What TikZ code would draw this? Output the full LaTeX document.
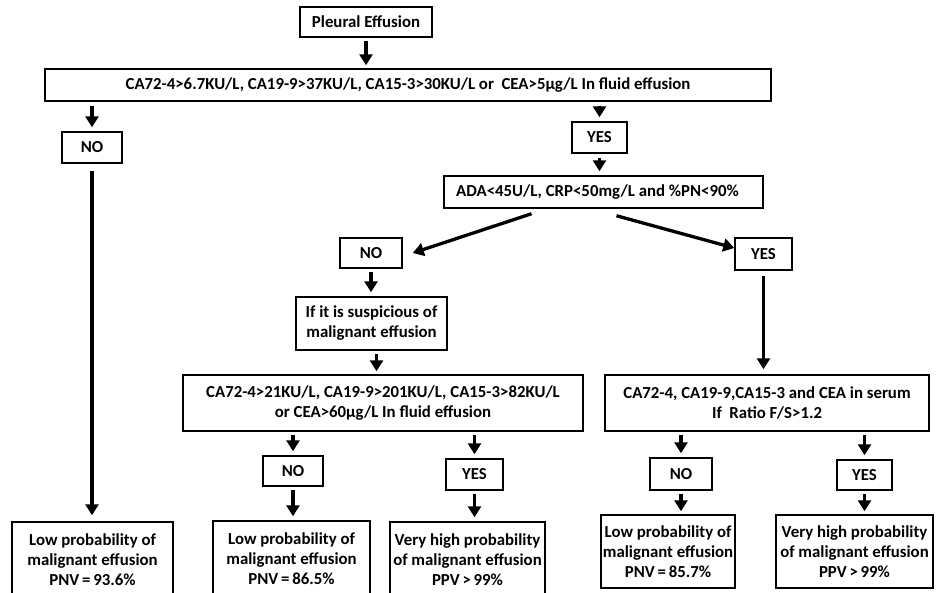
\documentclass[tikz,border=0pt]{standalone}
\usepackage{fontspec}
\setmainfont{Carlito}
\usetikzlibrary{arrows.meta,calc}
\tikzset{
  box/.style={draw=black, line width=1.5pt, fill=white, inner sep=0pt, align=center,
    font=\bfseries\fontsize{16.8}{20}\selectfont},
  arr/.style={line width=3.3pt, -{Triangle[width=13pt,length=11pt]}},
}
\begin{document}
\begin{tikzpicture}[x=1pt,y=-1pt]
\useasboundingbox (0,0) rectangle (936,592);
\clip (0,0) rectangle (936,592);
\fill[white] (0,0) rectangle (936,592);
% nodes
\node[box, minimum width=132pt, minimum height=30pt] (pe) at (366,22) {Pleural Effusion};
\node[box, minimum width=726pt, minimum height=32pt] (c1) at (408,85) {CA72-4>6.7KU/L, CA19-9>37KU/L, CA15-3>30KU/L or\ \ CEA>5µg/L In fluid effusion};
\node[box, minimum width=60pt, minimum height=31pt] (no1) at (92,147.5) {NO};
\node[box, minimum width=55pt, minimum height=31pt] (yes1) at (599.5,137.5) {YES};
\node[box, minimum width=319pt, minimum height=32pt] (ada) at (603.5,192) {ADA<45U/L, CRP<50mg/L and \%PN<90\%\hspace*{12pt}};
\node[box, minimum width=62pt, minimum height=30pt] (no2) at (371,253) {NO};
\node[box, minimum width=57pt, minimum height=32pt] (yes2) at (763.5,254) {YES};
\node[box, minimum width=151pt, minimum height=53pt] (sus) at (371.5,323.5) {If it is suspicious of\\malignant effusion};
\node[box, minimum width=400pt, minimum height=56pt] (c21) at (383,403) {CA72-4>21KU/L, CA19-9>201KU/L, CA15-3>82KU/L\\or CEA>60µg/L In fluid effusion};
\node[box, minimum width=324pt, minimum height=56pt] (ser) at (767,403) {CA72-4, CA19-9,CA15-3 and CEA in serum\\If\ \ Ratio F/S>1.2};
\node[box, minimum width=60pt, minimum height=30pt] (no3) at (293,471) {NO};
\node[box, minimum width=57pt, minimum height=31pt] (yes3) at (474.5,474.5) {YES};
\node[box, minimum width=62pt, minimum height=32pt] (no4) at (681,474) {NO};
\node[box, minimum width=55pt, minimum height=30pt] (yes4) at (864.5,475) {YES};
\node[box, minimum width=161pt, minimum height=76pt] (b1) at (92.5,560) {Low probability of\\malignant effusion\\PNV\,=\,93.6\%};
\node[box, minimum width=157pt, minimum height=76pt] (b2) at (291.5,559) {Low probability of\\malignant effusion\\PNV\,=\,86.5\%};
\node[box, minimum width=155pt, minimum height=76pt] (b3) at (467.5,560) {Very high probability\\of malignant effusion\\PPV\,>\,99\%};
\node[box, minimum width=134pt, minimum height=73pt] (b4) at (668,551.5) {Low probability of\\malignant effusion\\PNV\,=\,85.7\%};
\node[box, minimum width=157pt, minimum height=73pt] (b5) at (854.5,551.5) {Very high probability\\of malignant effusion\\PPV\,>\,99\%};
% connectors
\draw[arr, shorten <=3pt, shorten >=3pt] (pe.south) -- (pe.south |- c1.north);
\draw[arr, shorten <=4pt, shorten >=4pt] (c1.south -| no1) -- (no1.north);
\draw[arr, shorten <=4pt, shorten >=4pt] (c1.south -| yes1) -- (yes1.north);
\draw[arr, shorten <=4pt, shorten >=4pt] (yes1.south) -- (yes1.south |- ada.north);
\draw[arr] ($(ada.south)+(-72,5)$) -- ($(no2.east)+(10,0)$);
\draw[arr] ($(ada.south)+(13,7)$) -- ($(yes2.west)+(0,-6)$);
\draw[arr, shorten <=3pt, shorten >=4pt] (no2.south) -- (no2.south |- sus.north);
\draw[arr, shorten <=3pt, shorten >=3pt] ($(sus.south)+(5,0)$) -- ($(sus.south |- c21.north)+(5,0)$);
\draw[arr, shorten <=3pt, shorten >=4pt] (c21.south -| no3) -- (no3.north);
\draw[arr, shorten <=3pt, shorten >=4pt] (c21.south -| yes3) -- (yes3.north);
\draw[arr, shorten <=3pt, shorten >=4pt] (no3.south) -- (no3.south |- b2.north);
\draw[arr, shorten <=3pt, shorten >=4pt] (yes3.south) -- (yes3.south |- b3.north);
\draw[arr, shorten <=7pt, shorten >=6pt] (no1.south) -- (no1.south |- b1.north);
\draw[arr, shorten <=5pt, shorten >=5pt] (yes2.south) -- (yes2.south |- ser.north);
\draw[arr, shorten <=3pt, shorten >=4pt] (ser.south -| no4) -- (no4.north);
\draw[arr, shorten <=3pt, shorten >=4pt] (ser.south -| yes4) -- (yes4.north);
\draw[arr, shorten <=3pt, shorten >=3pt] (no4.south) -- (no4.south |- b4.north);
\draw[arr, shorten <=3pt, shorten >=3pt] (yes4.south) -- (yes4.south |- b5.north);
\end{tikzpicture}
\end{document}
